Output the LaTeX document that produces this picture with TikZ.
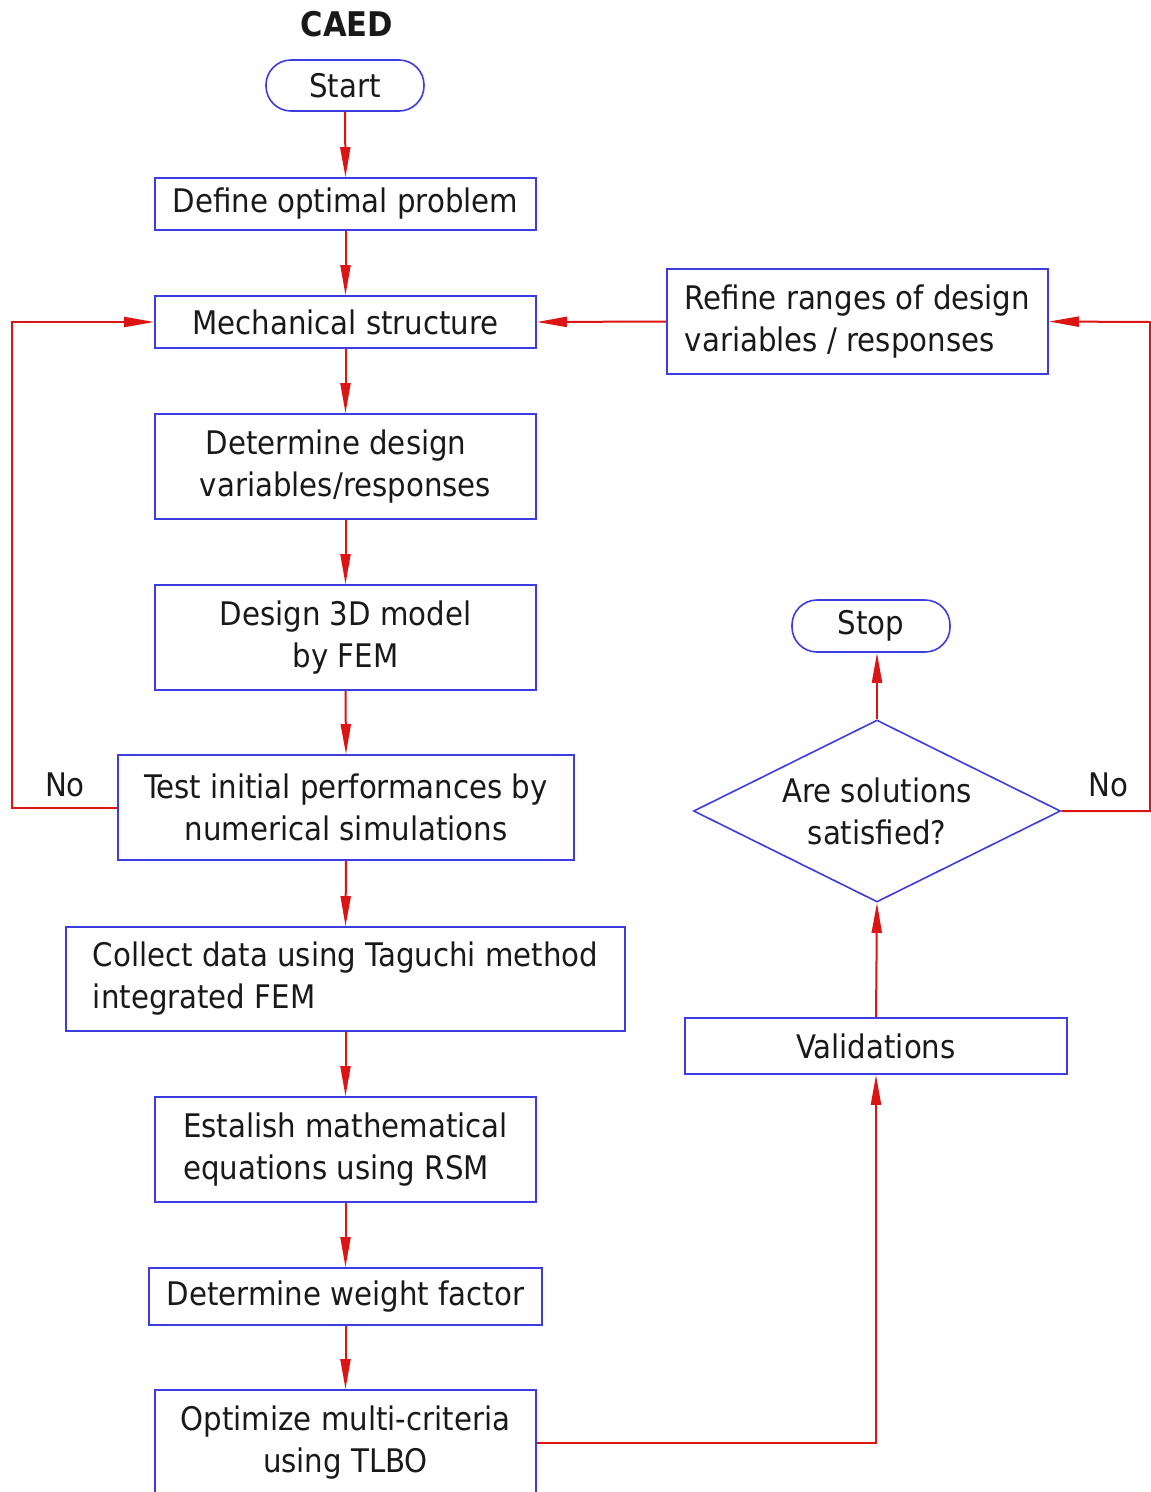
\documentclass[tikz,border=0pt]{standalone}
\usepackage{fontspec}
\setmainfont{DejaVu Sans Condensed}
\usetikzlibrary{shapes.geometric,arrows.meta}
\definecolor{bxblue}{RGB}{60,60,225}
\definecolor{lnred}{RGB}{220,20,20}
\definecolor{txt}{RGB}{25,25,25}
\begin{document}
\begin{tikzpicture}[x=1pt,y=-1pt,
  box/.style={draw=bxblue, line width=1.6pt, rectangle, inner sep=0pt, text=txt,
    font=\fontsize{32.5}{42}\selectfont, align=center},
  term/.style={box, rounded corners=25pt},
  arr/.style={draw=lnred, line width=2pt, -{Triangle[length=30pt,width=10pt]}},
  lbl/.style={text=txt, font=\fontsize{32.5}{42}\selectfont, inner sep=0pt}]
\useasboundingbox (0,0) rectangle (1151,1492);
\node[text=txt, font=\bfseries\fontsize{34}{40}\selectfont, inner sep=0pt] (title) at (347,24) {CAED};
\node[term, minimum width=158pt, minimum height=51pt] (start) at (345,85.5) {Start};
\node[box, minimum width=381pt, minimum height=52pt] (def) at (345.5,204) {Define optimal problem};
\node[box, minimum width=381pt, minimum height=52pt] (mech) at (345.5,322) {Mechanical structure};
\node[box, minimum width=381pt, minimum height=105pt] (detd) at (345.5,466.5) {\hspace*{-19pt}Determine design\\ variables/responses};
\node[box, minimum width=381pt, minimum height=105pt] (d3d) at (345.5,637.5) {Design 3D model\\ by FEM};
\node[box, minimum width=456pt, minimum height=105pt] (test) at (346,807.5) {Test initial performances by\\ numerical simulations};
\node[box, align=left, minimum width=559pt, minimum height=104pt] (coll) at (345.5,979) {Collect data using Taguchi method\\ integrated FEM};
\node[box, align=left, minimum width=381pt, minimum height=105pt] (est) at (345.5,1149.5) {Estalish mathematical\\ equations using RSM};
\node[box, minimum width=393pt, minimum height=57pt] (wf) at (345.5,1296.5) {Determine weight factor};
\node[box, minimum width=381pt, minimum height=105pt] (opt) at (345.5,1442.5) {Optimize multi-criteria\\ using TLBO};
\node[box, align=left, minimum width=381pt, minimum height=105pt] (refine) at (857.5,321.5) {Refine ranges of design\\ variables / responses};
\node[term, minimum width=158pt, minimum height=52pt] (stop) at (871,626) {Stop};
\node[box, shape=diamond, shape aspect=2.2, minimum width=367pt, minimum height=182pt] (dia) at (877,811) {Are solutions\\ satisfied?};
\node[box, minimum width=382pt, minimum height=56pt] (val) at (876,1046) {Validations};
\node[lbl] (nol) at (65,785) {No};
\node[lbl] (nor) at (1108,785) {No};
\coordinate (lc) at (12,322);
\coordinate (rc) at (1150,322);
\draw[arr] (start.south) -- (def.north);
\draw[arr] (def.south) -- (mech.north);
\draw[arr] (mech.south) -- (detd.north);
\draw[arr] (detd.south) -- (d3d.north);
\draw[arr] (d3d.south) -- (test.north);
\draw[arr] (test.south) -- (coll.north);
\draw[arr] (coll.south) -- (est.north);
\draw[arr] (est.south) -- (wf.north);
\draw[arr] (wf.south) -- (opt.north);
\draw[arr] (opt.east) -| (val.south);
\draw[arr] (val.north) -- (dia.south);
\draw[arr] (dia.north) -- (dia.north |- stop.south);
\draw[arr] (dia.east) -| (rc) -- (refine.east);
\draw[arr] (refine.west) -- (mech.east);
\draw[arr] (test.west) -| (lc) -- (mech.west);
\end{tikzpicture}
\end{document}
